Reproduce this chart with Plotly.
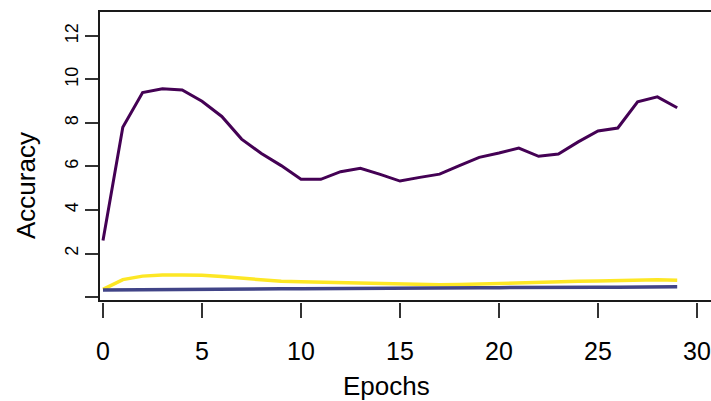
import plotly.graph_objects as go

epochs = list(range(30))
series_purple = [2.6, 7.8, 9.4, 9.57, 9.52, 9.0, 8.3, 7.26, 6.6, 6.04, 5.41, 5.41, 5.76, 5.92, 5.64,
                 5.33, 5.5, 5.65, 6.04, 6.42, 6.62, 6.85, 6.47, 6.57, 7.13, 7.63, 7.77, 8.97, 9.2, 8.7]
series_yellow = [0.35, 0.8, 0.96, 1.01, 1.01, 1.0, 0.94, 0.88, 0.8, 0.72, 0.7, 0.68, 0.66, 0.65, 0.6,
                 0.57, 0.56, 0.56, 0.57, 0.6, 0.63, 0.65, 0.67, 0.7, 0.72, 0.73, 0.76, 0.8, 0.79, 0.77]
series_blue = [0.32, 0.33, 0.34, 0.35, 0.35, 0.36, 0.36, 0.37, 0.37, 0.38, 0.38, 0.39, 0.39, 0.40, 0.40,
               0.41, 0.41, 0.42, 0.42, 0.43, 0.43, 0.44, 0.44, 0.44, 0.45, 0.45, 0.45, 0.46, 0.46, 0.47]

x_ticks = [0, 5, 10, 15, 20, 25, 30]
y_ticks = [0, 2, 4, 6, 8, 10, 12]
y_ticktext = ["", "2", "4", "6", "8", "10", "12"]

FONT = "Liberation Sans, Arial, sans-serif"

fig = go.Figure()
fig.add_trace(go.Scatter(x=epochs, y=series_purple, mode="lines",
                         line=dict(color="#440154", width=3), showlegend=False))
fig.add_trace(go.Scatter(x=epochs, y=series_yellow, mode="lines",
                         line=dict(color="#FDE725", width=3.5), showlegend=False))
fig.add_trace(go.Scatter(x=epochs, y=series_blue, mode="lines",
                         line=dict(color="#414487", width=3.5), showlegend=False))
# invisible trace to carry the tick-only x axis
fig.add_trace(go.Scatter(x=[None], y=[None], xaxis="x2", yaxis="y", showlegend=False,
                         hoverinfo="skip"))

W, H = 711, 401
L, R, T, B = 100, 0, 12, 91
ph = H - T - B  # 298
pw = W - L - R

xr = [-0.1515, 30.707]
fig.update_layout(
    width=W, height=H,
    margin=dict(l=L, r=R, t=T, b=B, pad=0),
    paper_bgcolor="white", plot_bgcolor="white",
    font=dict(family=FONT, color="black"),
    xaxis=dict(range=xr, showline=True, linecolor="#1a1a1a", linewidth=1.8, mirror=True,
               ticks="", showticklabels=False, showgrid=False, zeroline=False),
    xaxis2=dict(range=xr, overlaying="x", anchor="free", position=8 / ph, side="bottom",
                showline=False, ticks="outside", ticklen=15, tickwidth=1.6, tickcolor="#333",
                tickvals=x_ticks, ticktext=[str(v) for v in x_ticks],
                tickfont=dict(size=25, family=FONT, color="black"),
                ticklabelstandoff=12,
                showgrid=False, zeroline=False),
    yaxis=dict(domain=[10 / ph, 1], range=[-0.138, 13.103], showline=True, linecolor="#1a1a1a",
               linewidth=1.8, ticks="outside", ticklen=13, tickwidth=1.6, tickcolor="#333",
               tickvals=y_ticks, ticktext=y_ticktext, tickangle=-90,
               tickfont=dict(size=18, family=FONT, color="black"),
               showgrid=False, zeroline=False),
    annotations=[
        dict(text="Epochs", xref="paper", yref="paper", x=(386 - L) / pw, y=(H - B - 386) / ph,
             xanchor="center", yanchor="middle", showarrow=False,
             font=dict(size=26, family=FONT, color="black")),
        dict(text="Accuracy", xref="paper", yref="paper", x=(26 - L) / pw, y=(H - B - 186) / ph,
             xanchor="center", yanchor="middle", showarrow=False, textangle=-90,
             font=dict(size=26, family=FONT, color="black")),
    ],
)

fig.write_html("out.html")
